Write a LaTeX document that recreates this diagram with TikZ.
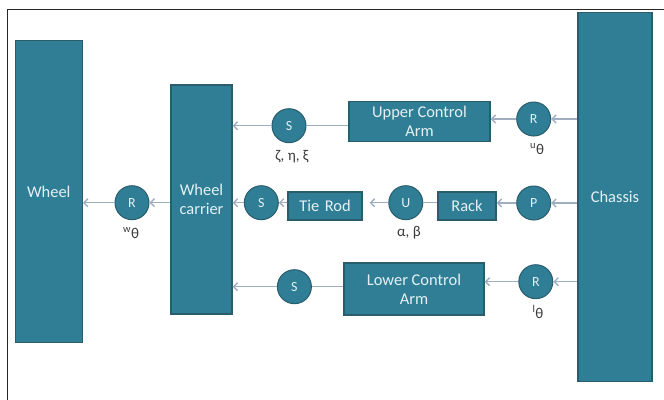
\documentclass[tikz,border=0pt]{standalone}
\usepackage{fontspec}
\setmainfont{Carlito}
\usepackage{tikz}
\usetikzlibrary{arrows.meta}
\definecolor{tealfill}{HTML}{2F7E96}
\definecolor{tealedge}{HTML}{2A5D6C}
\definecolor{tealtext}{HTML}{E4F1F4}
\definecolor{linkgray}{HTML}{9FAEC0}
\definecolor{labelgray}{HTML}{3A3A3A}
\tikzset{
  block/.style={draw=tealedge, line width=1.2bp, fill=tealfill, text=tealtext,
    align=center, inner sep=0pt, font=\fontsize{16.5}{19}\selectfont},
  joint/.style={circle, draw=tealedge, line width=1bp, fill=tealfill, text=tealtext,
    minimum size=34bp, inner sep=0pt, font=\fontsize{14}{16}\selectfont},
  jointlabel/.style={text=labelgray, inner sep=0pt, font=\fontsize{15}{17}\selectfont},
  link/.style={-{Straight Barb[length=4bp, width=8bp]}, line width=1.4bp, draw=linkgray},
  tie/.style={line width=1.4bp, draw=linkgray}
}

\begin{document}
\begin{tikzpicture}[x=1bp, y=-1bp]
  \useasboundingbox (0,0) rectangle (664,399);
  \draw[line width=1bp, draw=black!85] (7,9) rectangle (680,420);

  \node[block, minimum width=67bp, minimum height=302bp] (wheel) at (48.8,191.7) {Wheel};
  \node[block, minimum width=61bp, minimum height=229bp] (carrier) at (201.5,199.5) {Wheel\\carrier};
  \node[block, minimum width=74bp, minimum height=369bp] (chassis) at (615,197.2) {Chassis};

  \node[block, minimum width=141bp, minimum height=40bp] (uca) at (419.5,121.7) {Upper Control\\Arm};
  \node[block, minimum width=74bp, minimum height=28bp] (tierod) at (325,206) {Tie\,\,Rod};
  \node[block, minimum width=58bp, minimum height=28bp] (rack) at (467,206) {Rack};
  \node[block, minimum width=140bp, minimum height=52bp] (lca) at (414,289) {Lower Control\\Arm};

  \node[joint] (su) at (289,125.7) {S};
  \node[joint] (ru) at (533.7,119) {R};
  \node[joint] (rw) at (132,202.7) {R};
  \node[joint] (sm) at (261.3,202.7) {S};
  \node[joint] (uj) at (405.8,202.7) {U};
  \node[joint] (pj) at (533.7,203) {P};
  \node[joint] (sl) at (294.4,286.7) {S};
  \node[joint] (rl) at (535.8,281.7) {R};

  \node[jointlabel] (lblsu) at (292,157) {ζ, η, ξ};
  \node[jointlabel] (lblru) at (537,149) {\textsuperscript{u}θ};
  \node[jointlabel] (lblrw) at (131,233) {\textsuperscript{w}θ};
  \node[jointlabel] (lbluj) at (409,233) {α, β};
  \node[jointlabel] (lblrl) at (538,312) {\textsuperscript{l}θ};

  \draw[link] (ru -| chassis.west) -- (ru);
  \draw[link] (ru) -- (ru -| uca.east);
  \draw[tie] (su) -- (su -| uca.west);
  \draw[link] (su) -- (su -| carrier.east);

  \draw[link] (pj -| chassis.west) -- (pj);
  \draw[link] (pj) -- (pj -| rack.east);
  \draw[tie] (uj) -- (uj -| rack.west);
  \draw[link, shorten >=7bp] (uj) -- (uj -| tierod.east);
  \draw[link] (sm -| tierod.west) -- (sm);
  \draw[link] (sm) -- (sm -| carrier.east);
  \draw[link] (rw -| carrier.west) -- (rw);
  \draw[link] (rw) -- (rw -| wheel.east);

  \draw[link] (rl -| chassis.west) -- (rl);
  \draw[link] (rl) -- (rl -| lca.east);
  \draw[tie] (sl) -- (sl -| lca.west);
  \draw[link] (sl) -- (sl -| carrier.east);
\end{tikzpicture}
\end{document}
